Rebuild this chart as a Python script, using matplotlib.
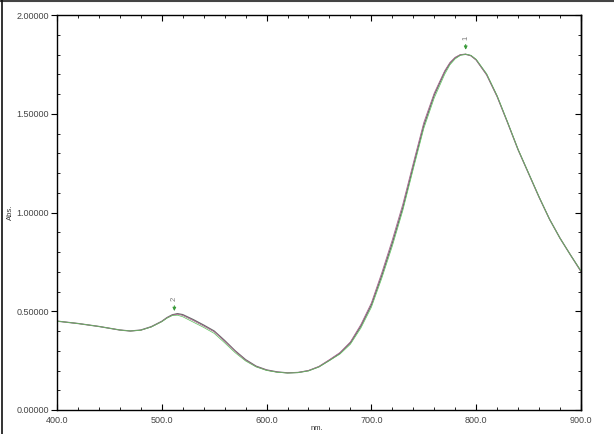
import matplotlib
matplotlib.use("Agg")
import matplotlib.pyplot as plt
from matplotlib.lines import Line2D
from matplotlib.ticker import MultipleLocator, FormatStrFormatter

plt.rcParams['font.family'] = ['Liberation Sans', 'DejaVu Sans']

wavelength = [400, 420, 440, 460, 470, 480, 490, 500, 505, 510, 515, 520, 530, 540,
              550, 560, 570, 580, 590, 600, 610, 620, 630, 640, 650, 660, 670, 680,
              690, 700, 710, 720, 730, 740, 750, 760, 770, 775, 780, 785, 790, 795,
              800, 810, 820, 830, 840, 850, 860, 870, 880, 890, 900]

# three overlapping scans
abs_gray = [0.450, 0.438, 0.423, 0.405, 0.400, 0.405, 0.422, 0.449, 0.468, 0.482,
            0.488, 0.483, 0.458, 0.430, 0.400, 0.352, 0.300, 0.255, 0.222, 0.203,
            0.193, 0.188, 0.190, 0.199, 0.219, 0.252, 0.287, 0.340, 0.425, 0.532,
            0.682, 0.846, 1.025, 1.235, 1.440, 1.595, 1.712, 1.755, 1.783, 1.798,
            1.801, 1.794, 1.773, 1.698, 1.588, 1.455, 1.318, 1.198, 1.078, 0.966,
            0.870, 0.785, 0.702]
abs_purple = [0.450, 0.438, 0.423, 0.405, 0.400, 0.404, 0.421, 0.448, 0.467, 0.480,
              0.485, 0.479, 0.453, 0.425, 0.396, 0.348, 0.297, 0.252, 0.220, 0.202,
              0.192, 0.188, 0.190, 0.200, 0.221, 0.255, 0.291, 0.345, 0.433, 0.542,
              0.696, 0.862, 1.042, 1.250, 1.455, 1.605, 1.718, 1.760, 1.786, 1.800,
              1.802, 1.794, 1.772, 1.697, 1.587, 1.455, 1.318, 1.198, 1.078, 0.966,
              0.870, 0.785, 0.702]
abs_green = [0.450, 0.438, 0.423, 0.405, 0.400, 0.404, 0.420, 0.447, 0.465, 0.478,
             0.480, 0.472, 0.445, 0.418, 0.388, 0.340, 0.290, 0.248, 0.218, 0.200,
             0.191, 0.187, 0.189, 0.198, 0.218, 0.250, 0.283, 0.333, 0.415, 0.520,
             0.668, 0.830, 1.010, 1.220, 1.425, 1.580, 1.700, 1.748, 1.778, 1.796,
             1.802, 1.796, 1.776, 1.703, 1.592, 1.458, 1.320, 1.200, 1.080, 0.966,
             0.870, 0.785, 0.705]

peak_nm = [790, 512]
peak_abs = [1.805, 0.482]
peak_names = ['1', '2']

fig = plt.figure(figsize=(6.14, 4.34), dpi=100)
ax = fig.add_axes([0.0928, 0.0553, 0.8534, 0.9101])

ax.plot(wavelength, abs_gray, color='#6a6a6a', lw=0.9)
ax.plot(wavelength, abs_purple, color='#a86a90', lw=0.6)
ax.plot(wavelength, abs_green, color='#5cc05c', lw=0.5)

for x, y, name in zip(peak_nm, peak_abs, peak_names):
    ax.annotate('', xy=(x, y + 0.005), xytext=(x, y + 0.06),
                arrowprops=dict(arrowstyle='-|>', color='#3a9a3a', lw=0.7,
                                mutation_scale=5))
    ax.text(x, y + 0.07, name, rotation=90, fontsize=5.5, color='#777777',
            ha='center', va='bottom')

ax.set_xlim(400, 900)
ax.set_ylim(0, 2)
ax.xaxis.set_major_locator(MultipleLocator(100))
ax.xaxis.set_minor_locator(MultipleLocator(20))
ax.yaxis.set_major_locator(MultipleLocator(0.5))
ax.yaxis.set_minor_locator(MultipleLocator(0.1))
ax.xaxis.set_major_formatter(FormatStrFormatter('%.1f'))
ax.yaxis.set_major_formatter(FormatStrFormatter('%.5f'))

ax.tick_params(axis='x', which='both', direction='in', top=True,
               labelsize=6.5, labelcolor='#444444', pad=4)
ax.tick_params(axis='x', which='major', length=4, width=0.8)
ax.tick_params(axis='x', which='minor', length=2.5, width=0.6)
ax.tick_params(axis='y', which='major', direction='out', length=4, width=0.8,
               labelsize=6.5, labelcolor='#444444', pad=2)
ax.tick_params(axis='y', which='minor', direction='in', length=2.5, width=0.6,
               right=True)

right = ax.secondary_yaxis('right')
right.yaxis.set_major_locator(MultipleLocator(0.5))
right.tick_params(which='major', direction='in', length=4, width=0.8,
                  labelright=False)

for s in ax.spines.values():
    s.set_linewidth(1.0)
right.spines['right'].set_linewidth(1.0)

fig.text(10 / 614, 1 - 212 / 434, 'Abs.', rotation=90, fontsize=5.5,
         color='#333333', ha='center', va='center')
fig.text(317 / 614, 1 - 429 / 434, 'nm.', fontsize=5.5, color='#333333',
         ha='center', va='center')

# frame of the screenshot
fig.add_artist(Line2D([0, 1], [0.998, 0.998], transform=fig.transFigure,
                      color='#444444', lw=1.5))
fig.add_artist(Line2D([0.003, 0.003], [0, 1], transform=fig.transFigure,
                      color='#111111', lw=1.2))

fig.savefig('out.png', dpi=100)
